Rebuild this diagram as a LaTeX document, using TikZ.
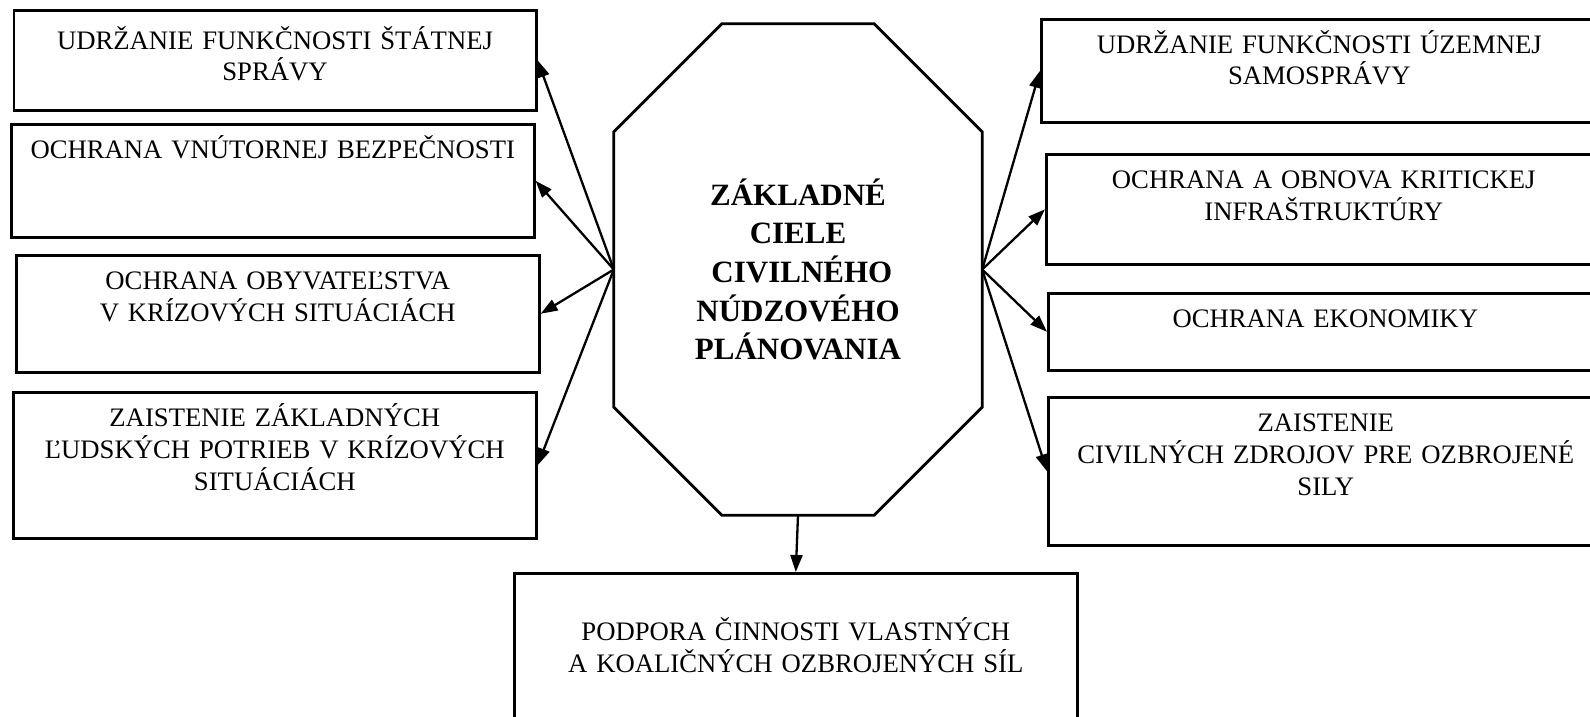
\documentclass[tikz,border=0pt]{standalone}
\usepackage{fontspec}
\setmainfont{Liberation Serif}
\usetikzlibrary{arrows.meta}
\tikzset{
  goal/.style={draw, line width=2.6pt, rectangle, anchor=north west, inner sep=0pt},
  goaltext/.style={anchor=base, yshift=-35pt, text width=530pt, align=center, font=\fontsize{26.7}{32}\selectfont},
  arr/.style={line width=2.3pt, -{Triangle[length=17pt,width=12pt]}},
}
\begin{document}
\begin{tikzpicture}[x=1pt,y=-1pt]
\useasboundingbox (0,0) rectangle (1590,717);
\clip (0,0) rectangle (1590,717);
\node[minimum width=368pt, minimum height=491pt, inner sep=0pt, align=center, font=\fontsize{31}{38.7}\selectfont\bfseries] (0) at (798,269.5) {ZÁKLADNÉ\\CIELE\\\hspace*{.25em}CIVILNÉHO\\NÚDZOVÉHO\\PLÁNOVANIA};
\draw[line width=2.8pt] ([xshift=108pt]0.north west) -- ([xshift=-108pt]0.north east) -- ([yshift=-108pt]0.north east) -- ([yshift=108pt]0.south east) -- ([xshift=-108pt]0.south east) -- ([xshift=108pt]0.south west) -- ([yshift=108pt]0.south west) -- ([yshift=-108pt]0.north west) -- cycle;
\node[goal, minimum width=522.5pt, minimum height=100pt, label={[goaltext, yshift=-5pt]north:UDRŽANIE FUNKČNOSTI ŠTÁTNEJ\\SPRÁVY}] (1) at (12.5,9) {};
\node[goal, minimum width=523pt, minimum height=113pt, label={[goaltext]north:OCHRANA VNÚTORNEJ BEZPEČNOSTI}] (2) at (10,123) {};
\node[goal, minimum width=523pt, minimum height=117pt, label={[goaltext]north:OCHRANA OBYVATEĽSTVA\\V KRÍZOVÝCH SITUÁCIÁCH}] (3) at (15,254) {};
\node[goal, minimum width=523pt, minimum height=146pt, label={[goaltext]north:ZAISTENIE ZÁKLADNÝCH\\ĽUDSKÝCH POTRIEB V KRÍZOVÝCH\\SITUÁCIÁCH}] (4) at (12,391) {};
\node[goal, minimum width=556pt, minimum height=103pt, label={[goaltext]north:UDRŽANIE FUNKČNOSTI ÚZEMNEJ\\SAMOSPRÁVY}] (5) at (1040,18) {};
\node[goal, minimum width=555pt, minimum height=110pt, label={[goaltext]north:OCHRANA A OBNOVA KRITICKEJ\\INFRAŠTRUKTÚRY}] (6) at (1045,153) {};
\node[goal, minimum width=554pt, minimum height=77pt, label={[goaltext]north:OCHRANA EKONOMIKY}] (7) at (1047,292) {};
\node[goal, minimum width=555pt, minimum height=148pt, label={[goaltext]north:ZAISTENIE\\CIVILNÝCH ZDROJOV PRE OZBROJENÉ\\SILY}] (8) at (1047,396) {};
\node[goal, minimum width=563pt, minimum height=170pt, label={[goaltext, yshift=-33pt]north:PODPORA ČINNOSTI VLASTNÝCH\\A KOALIČNÝCH OZBROJENÝCH SÍL}] (9) at (513,572) {};
\path[draw,arr] (0.west) -- (1.east);
\path[draw,arr] (0.west) -- (2.east);
\path[draw,arr] (0.west) -- (3.east);
\path[draw,arr] (0.west) -- (4.east);
\path[draw,arr] (0.east) -- (5.west);
\path[draw,arr] (0.east) -- (6.west);
\path[draw,arr] (0.east) -- (7.west);
\path[draw,arr] (0.east) -- (8.west);
\path[draw,arr] (0.south) -- (9.north);
\end{tikzpicture}
\end{document}
